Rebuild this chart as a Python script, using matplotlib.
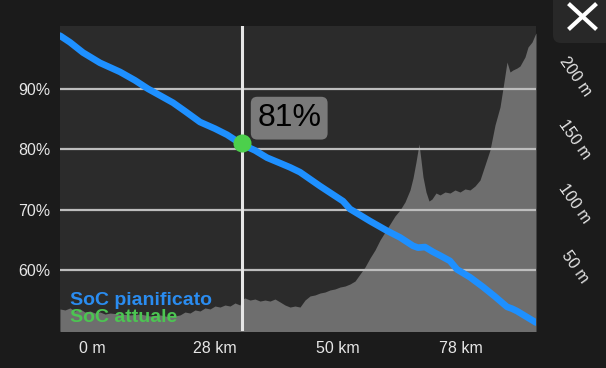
import numpy as np
import matplotlib.pyplot as plt
from matplotlib.patches import FancyBboxPatch
from matplotlib.lines import Line2D
from matplotlib.transforms import IdentityTransform

plt.rcParams['font.family'] = ['Liberation Sans', 'DejaVu Sans']

# elevation profile (distance, metres)
elev_dist = [0, 1, 2, 3, 4, 5, 6, 7, 8, 9, 10, 12, 14, 16, 18, 20, 22, 24, 25, 26,
             27, 28, 29, 30, 31, 32, 33, 34, 35, 36, 36.4, 37, 38, 39, 40, 41, 42, 43,
             44, 45, 46, 47, 48, 49, 50, 51, 52, 53, 54, 55, 56, 57, 58, 59, 60, 61,
             62, 63, 64, 65, 66, 67, 68, 69, 70, 70.6, 71.2, 71.8, 72.2, 72.6, 73.2,
             73.8, 74.4, 75.2, 76, 77, 78, 79, 80, 81, 82, 83, 84, 85, 86, 87, 88,
             88.6, 89.4, 90, 90.6, 91.4, 92, 93, 93.6, 94.4, 95, 95.2]
elev_m = [17.3, 16.5, 18.1, 15.7, 17.3, 14.9, 15.7, 14.1, 14.9, 13.3, 14.1, 13.3, 12.6,
          13.3, 11.8, 12.6, 11.0, 12.6, 14.9, 14.1, 16.5, 15.7, 18.1, 17.3, 19.6, 18.8,
          20.4, 19.6, 22.0, 20.4, 25.1, 25.9, 24.3, 25.1, 23.5, 24.3, 23.5, 25.1, 22.8,
          20.4, 18.8, 19.6, 18.8, 24.3, 27.5, 28.3, 29.8, 30.6, 32.2, 33.0, 34.5, 35.3,
          36.9, 39.2, 44.7, 50.2, 57.3, 63.6, 71.4, 77.7, 84.0, 90.3, 95.0, 101.3, 110.7,
          120.1, 132.7, 146.8, 134.2, 120.9, 109.1, 102.0, 103.6, 108.3, 106.8, 109.1,
          108.3, 110.7, 109.1, 111.5, 110.7, 113.8, 118.5, 130.3, 142.1, 161.7, 175.8,
          190.7, 211.1, 203.3, 204.9, 206.4, 208.0, 215.1, 222.9, 226.8, 232.3, 233.9]

# planned state of charge (distance, %)
soc_dist = [0, 2, 4.6, 8, 12, 15, 17.6, 20, 22.6, 25, 28, 31, 33.4, 36.4, 39, 41.4,
            44, 46, 48, 52, 56.6, 58, 62, 65.4, 68, 70.6, 71.6, 73, 74.6, 76, 78,
            79.4, 82, 84.6, 87, 89.4, 90.4, 91.4, 93, 95.2]
soc_pct = [98.8, 97.7, 96.0, 94.3, 92.8, 91.4, 90.0, 88.9, 87.7, 86.3, 84.5, 83.4,
           82.4, 80.8, 79.8, 78.6, 77.7, 77.0, 76.2, 73.9, 71.4, 70.1, 68.1, 66.5,
           65.4, 64.0, 63.7, 63.8, 63.0, 62.4, 61.5, 60.1, 58.8, 57.2, 55.6, 53.9,
           53.6, 53.2, 52.4, 51.3]

cursor_dist = 36.4
current_soc = 81

x_ticks = [6.4, 31.0, 55.6, 80.2]
x_labels = ['0 m', '28 km', '50 km', '78 km']
soc_ticks = [60, 70, 80, 90]
elev_ticks = [50, 100, 150, 200]

fig = plt.figure(figsize=(6.06, 3.68), dpi=100, facecolor='#1b1b1b')
ax = fig.add_axes([60 / 606, 37 / 368, 476 / 606, 305 / 368])
ax2 = ax.twinx()
ax.set_zorder(ax2.get_zorder() + 1)
ax.patch.set_visible(False)
ax2.patch.set_visible(True)
ax2.set_facecolor('#2b2b2b')

# elevation
ax2.fill_between(elev_dist, elev_m, -10, color='#6e6e6e', lw=0)
ax2.set_ylim(0, 239.4)
ax2.set_yticks(elev_ticks)
ax2.set_yticklabels([f'{v} m' for v in elev_ticks], rotation=-55, ha='center',
                    va='center', color='#e6e6e6', fontsize=11.5)
ax2.tick_params(axis='y', length=0, pad=28)

# SoC
ax.set_xlim(0, 95.2)
ax.set_ylim(49.9, 100.4)
ax.set_yticks(soc_ticks)
ax.set_yticklabels([f'{v}%' for v in soc_ticks], color='#e6e6e6', fontsize=11.5)
ax.set_xticks(x_ticks)
ax.set_xticklabels(x_labels, color='#e6e6e6', fontsize=11.5)
ax.tick_params(axis='both', length=0)
ax.tick_params(axis='y', pad=7)
ax.tick_params(axis='x', pad=7)
ax.grid(axis='y', color='#bdbdbd', lw=1.6)
ax.set_axisbelow(True)
for a in (ax, ax2):
    for s in a.spines.values():
        s.set_visible(False)

ax.axvline(cursor_dist, color='#e6e6e6', lw=2.2, zorder=2)
ax.plot(soc_dist, soc_pct, color='#1e90ff', lw=4.8, solid_capstyle='round', zorder=3)
ax.plot(cursor_dist, current_soc, 'o', ms=13, color='#4cd04c', mec='none', zorder=4)

ax.annotate(f'{current_soc}%', xy=(cursor_dist, current_soc), xytext=(34, 18),
            textcoords='offset points', ha='center', va='center', fontsize=23,
            color='black',
            bbox=dict(boxstyle='round,pad=0.2,rounding_size=0.2', fc='#7a7a7a', ec='none'),
            zorder=6)

ax.text(0.021, 0.086, 'SoC pianificato', transform=ax.transAxes, color='#2a8cf0',
        fontsize=14, fontweight='bold', va='baseline', zorder=7)
ax.text(0.021, 0.0295, 'SoC attuale', transform=ax.transAxes, color='#4cc552',
        fontsize=14, fontweight='bold', va='baseline', zorder=7)

# close button
fig.patches.append(FancyBboxPatch((553, 325), 70, 60, boxstyle='round,pad=0,rounding_size=8',
                                  fc='#282828', ec='none', transform=IdentityTransform()))
fig.lines.append(Line2D([570, 595], [363, 340], color='white', lw=3, transform=IdentityTransform()))
fig.lines.append(Line2D([570, 595], [340, 363], color='white', lw=3, transform=IdentityTransform()))

fig.savefig('out.png', dpi=100, facecolor=fig.get_facecolor())
